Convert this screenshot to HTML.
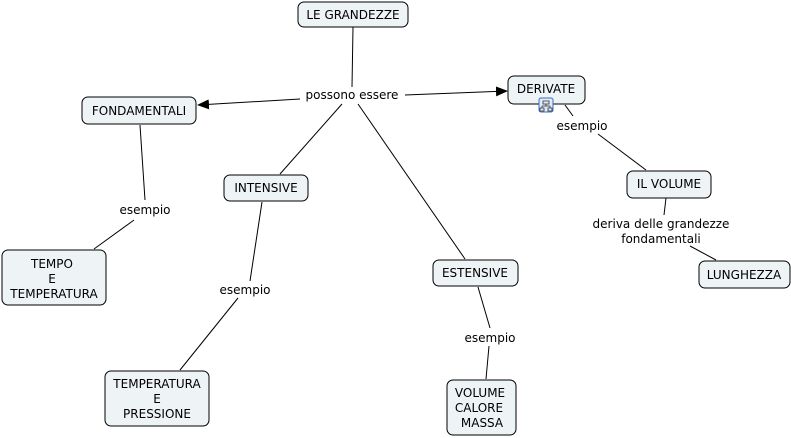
<!DOCTYPE html>
<html><head><meta charset="utf-8"><style>
html,body{margin:0;padding:0;background:#fff;width:791px;height:438px;overflow:hidden}
svg text{font-family:"DejaVu Sans","Liberation Sans",sans-serif;fill:#000}
.b{fill:#eef3f5;stroke:#000;stroke-width:1}
.t{font-size:12px;text-anchor:middle}
.l{font-size:12px;text-anchor:middle}
line{stroke:#000;stroke-width:1}
</style></head><body>
<svg width="791" height="438" xmlns="http://www.w3.org/2000/svg">
<defs><marker id="a" markerWidth="12" markerHeight="10" refX="11" refY="5" orient="auto" markerUnits="userSpaceOnUse"><path d="M0,0 L12,5 L0,10 z" fill="#000"/></marker></defs>
<line x1="353" y1="27" x2="352" y2="87"/>
<line x1="300" y1="99" x2="198" y2="105" marker-end="url(#a)"/>
<line x1="405" y1="95" x2="507" y2="91" marker-end="url(#a)"/>
<line x1="342" y1="104" x2="280" y2="174"/>
<line x1="358" y1="104" x2="465" y2="259"/>
<line x1="140" y1="125" x2="145" y2="200"/>
<line x1="134" y1="220" x2="94" y2="249"/>
<line x1="262" y1="202" x2="250" y2="281"/>
<line x1="238" y1="298" x2="180" y2="370"/>
<line x1="478" y1="287" x2="490" y2="328"/>
<line x1="489" y1="346" x2="486" y2="379"/>
<line x1="565" y1="105" x2="573" y2="116"/>
<line x1="598" y1="134" x2="646" y2="170"/>
<line x1="666" y1="198" x2="664" y2="215"/>
<line x1="690" y1="246" x2="716" y2="260"/>
<rect class="b" x="298" y="2" width="110" height="25" rx="6"/><text class="t" x="353" y="19">LE GRANDEZZE</text>
<rect class="b" x="82" y="97" width="114" height="27" rx="6"/><text class="t" x="139" y="115">FONDAMENTALI</text>
<rect class="b" x="508" y="76" width="77" height="28" rx="6"/><text class="t" x="546" y="93">DERIVATE</text>
<rect x="539" y="98" width="14" height="14" rx="2" fill="#dfe9f7" stroke="#3a6fc0"/>
<path d="M543,101h6v3h-6z M546,104v2 M542,106h8 M542,106v2 M550,106v2 M540,108h4v3h-4z M548,108h4v3h-4z" fill="none" stroke="#333" stroke-width="0.8"/>
<rect class="b" x="224" y="175" width="84" height="26" rx="6"/><text class="t" x="266" y="192">INTENSIVE</text>
<rect class="b" x="433" y="260" width="85" height="26" rx="6"/><text class="t" x="475" y="277">ESTENSIVE</text>
<rect class="b" x="627" y="171" width="84" height="27" rx="6"/><text class="t" x="669" y="188">IL VOLUME</text>
<rect class="b" x="699" y="261" width="91" height="27" rx="6"/><text class="t" x="744" y="279">LUNGHEZZA</text>
<rect class="b" x="2" y="250" width="104" height="55" rx="6"/>
<text class="t" x="52" y="268">TEMPO</text><text class="t" x="52" y="283">E</text><text class="t" x="54" y="298">TEMPERATURA</text>
<rect class="b" x="105" y="371" width="104" height="55" rx="6"/>
<text class="t" x="157" y="388">TEMPERATURA</text><text class="t" x="157" y="403">E</text><text class="t" x="157" y="418">PRESSIONE</text>
<rect class="b" x="447" y="380" width="69" height="55" rx="6"/>
<text class="t" x="480" y="397">VOLUME</text><text class="t" x="479" y="412">CALORE</text><text class="t" x="482" y="427">MASSA</text>
<text class="l" x="352" y="99">possono essere</text>
<text class="l" x="145" y="214">esempio</text>
<text class="l" x="245" y="294">esempio</text>
<text class="l" x="490" y="342">esempio</text>
<text class="l" x="582" y="130">esempio</text>
<text class="l" x="661" y="228">deriva delle grandezze</text>
<text class="l" x="661" y="243">fondamentali</text>
</svg>
</body></html>
